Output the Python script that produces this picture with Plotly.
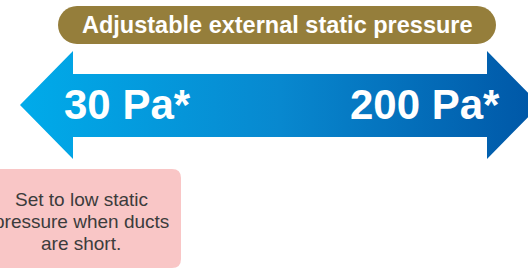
import plotly.graph_objects as go

# ---- content ----
title_text = "Adjustable external static pressure"
pressure_values = [30, 200]          # Pa, range of adjustable external static pressure
pressure_unit = "Pa*"
note_lines = ["Set to low static", "pressure when ducts", "are short."]

W, H = 528, 269
FONT = "Liberation Sans, Arial, Helvetica, sans-serif"

fig = go.Figure()

# double-headed arrow with horizontal gradient
ax = [20, 73, 73, 487, 487, 540, 487, 487, 73, 73, 20]
ay = [105, 51, 74, 74, 51, 105, 159, 137, 137, 159, 105]
fig.add_trace(go.Scatter(
    x=ax, y=ay, mode="lines", fill="toself",
    line=dict(width=0, color="rgba(0,0,0,0)"),
    fillgradient=dict(type="horizontal",
                      colorscale=[[0, "#00ABEA"], [0.5, "#0888CF"], [1, "#0056A6"]]),
    hoverinfo="skip", showlegend=False))

shapes = []
# title pill (rounded ends via cubic curves)
r = 19
k = 0.5523 * r
x0, x1, y0, y1 = 58, 496, 6, 44
ym = (y0 + y1) / 2
shapes.append(dict(
    type="path",
    path=(f"M {x0+r},{y0} L {x1-r},{y0} "
          f"C {x1-r+k},{y0} {x1},{ym-k} {x1},{ym} "
          f"C {x1},{ym+k} {x1-r+k},{y1} {x1-r},{y1} "
          f"L {x0+r},{y1} "
          f"C {x0+r-k},{y1} {x0},{ym+k} {x0},{ym} "
          f"C {x0},{ym-k} {x0+r-k},{y0} {x0+r},{y0} Z"),
    fillcolor="#957E3B", line=dict(width=0), layer="below"))
# pink note box
rr = 9
bx0, bx1, by0, by1 = -20, 181, 169, 268
shapes.append(dict(
    type="path",
    path=(f"M {bx0},{by0} L {bx1-rr},{by0} Q {bx1},{by0} {bx1},{by0+rr} "
          f"L {bx1},{by1-rr} Q {bx1},{by1} {bx1-rr},{by1} L {bx0},{by1} Z"),
    fillcolor="#F9C6C6", line=dict(width=0), layer="below"))

annotations = [
    dict(x=277, y=25, text=f"<b>{title_text}</b>", showarrow=False,
         xanchor="center", yanchor="middle",
         font=dict(family=FONT, size=23.5, color="white")),
    dict(x=62, y=104, text=f"<b>{pressure_values[0]} {pressure_unit}</b>", showarrow=False,
         xanchor="left", yanchor="middle",
         font=dict(family=FONT, size=42, color="white")),
    dict(x=502, y=104, text=f"<b>{pressure_values[1]} {pressure_unit}</b>", showarrow=False,
         xanchor="right", yanchor="middle",
         font=dict(family=FONT, size=42, color="white")),
]
for line, yc in zip(note_lines, [199.5, 221.5, 243.5]):
    annotations.append(dict(x=81, y=yc, text=line, showarrow=False,
                            xanchor="center", yanchor="middle",
                            font=dict(family=FONT, size=19, color="#3C3C3C")))

fig.update_layout(
    width=W, height=H,
    margin=dict(l=0, r=0, t=0, b=0),
    paper_bgcolor="white", plot_bgcolor="white",
    xaxis=dict(range=[0, W], visible=False, fixedrange=True),
    yaxis=dict(range=[H, 0], visible=False, fixedrange=True),
    shapes=shapes, annotations=annotations,
)

fig.write_html("out.html", config={"displayModeBar": False},
               post_script="document.body.style.margin='0';document.body.style.overflow='hidden';")
